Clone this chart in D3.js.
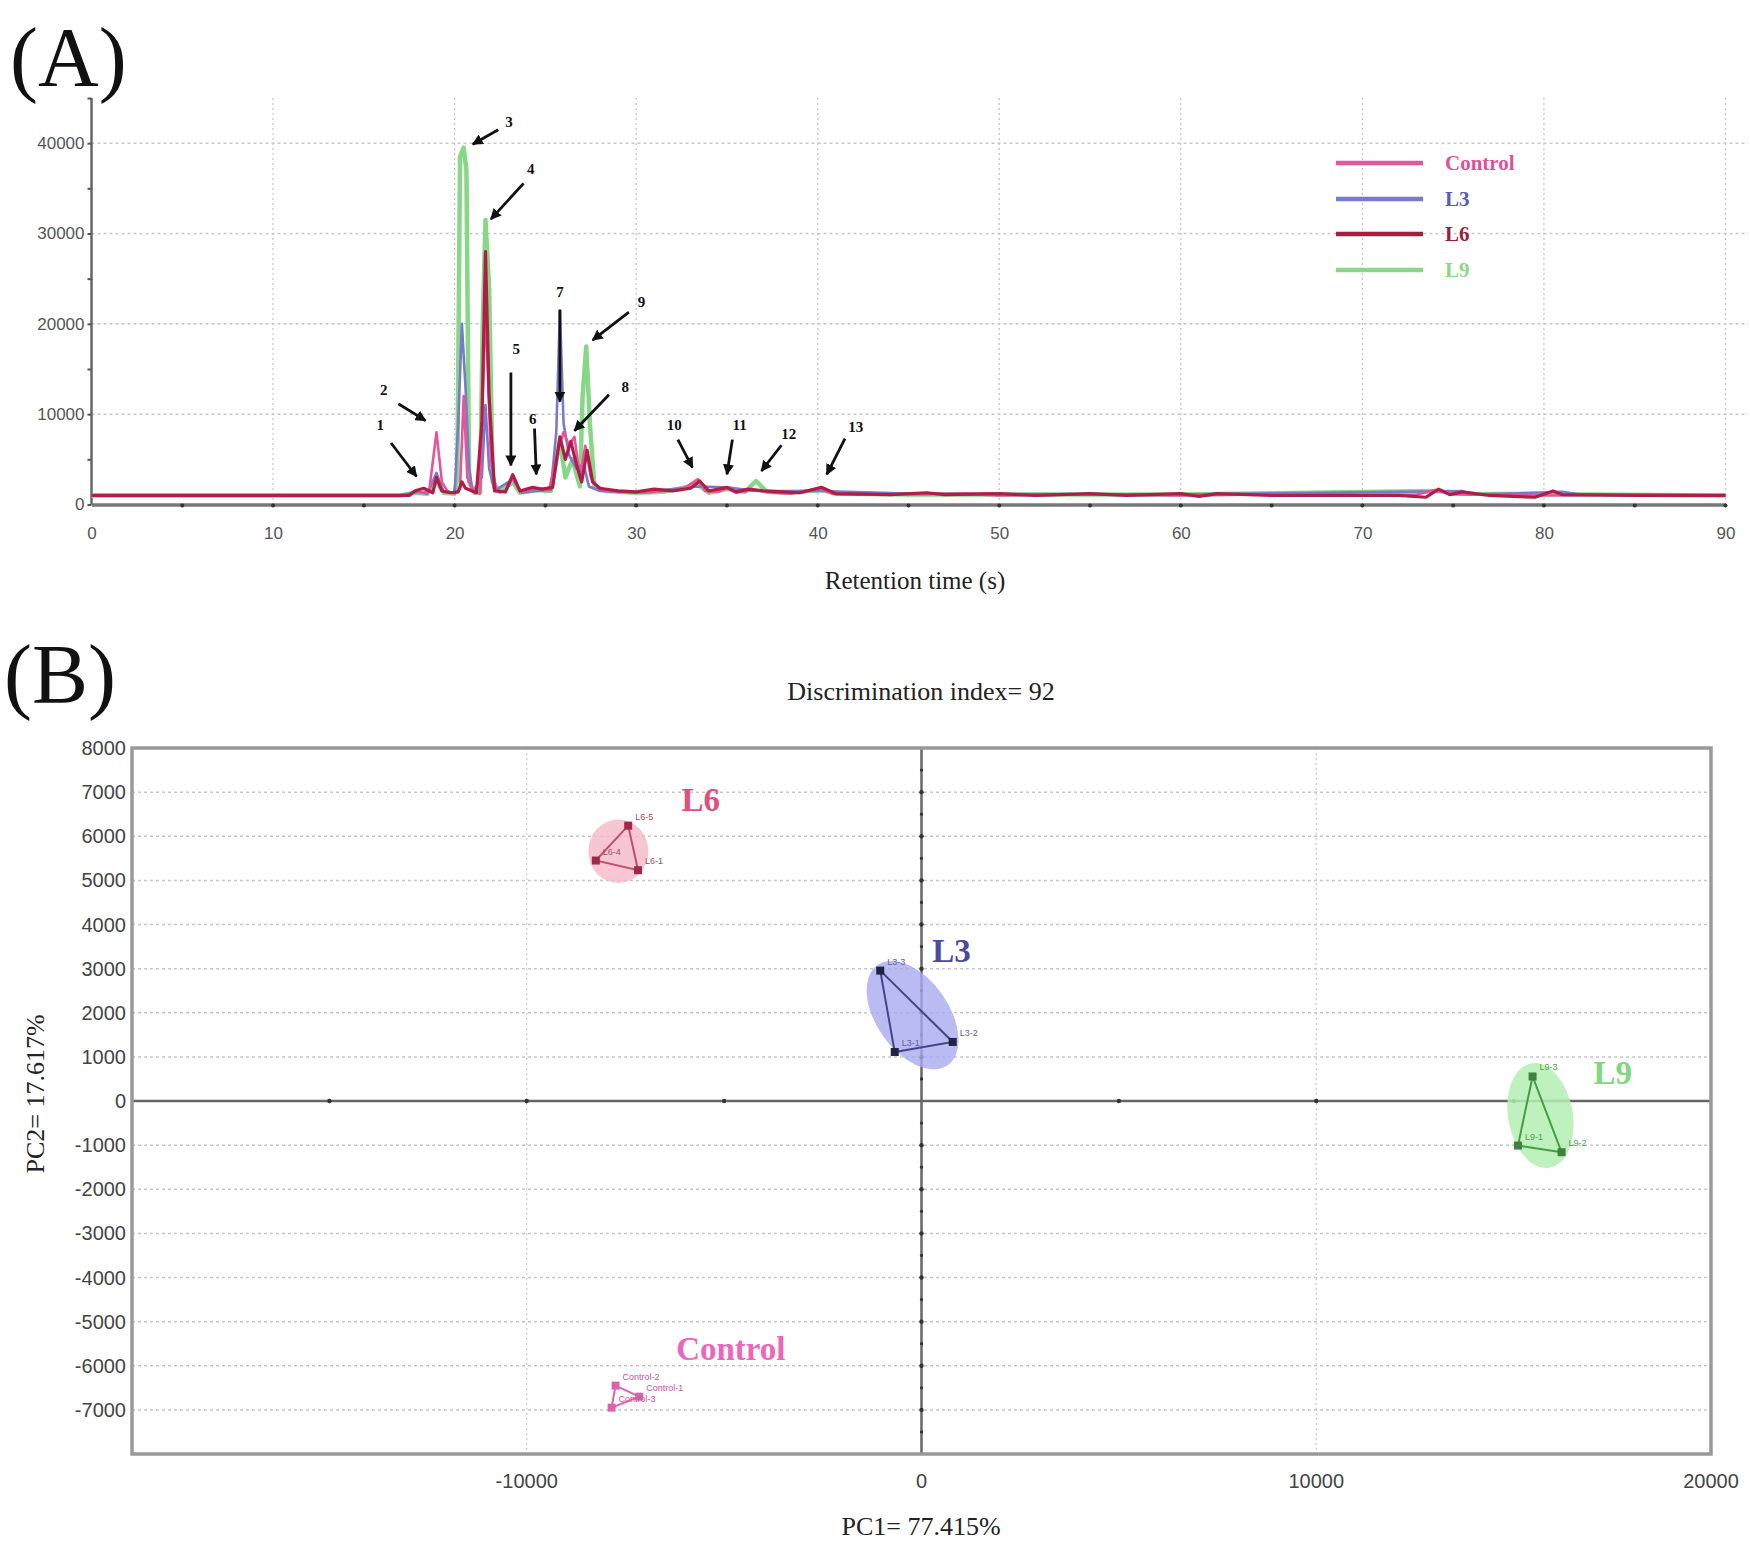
<!DOCTYPE html>
<html><head><meta charset="utf-8">
<script src="https://cdn.jsdelivr.net/npm/d3@7/dist/d3.min.js"></script>
<style>body{margin:0;background:#fff}svg{display:block}</style>
</head><body>
<script>
// ---------- Panel A data ----------
const seriesNames = ["Control", "L3", "L6", "L9"];
const xTicksA = [0,10,20,30,40,50,60,70,80,90];
const yTicksA = [0,10000,20000,30000,40000];

const traceControl = [[0,1000],[17.5,1000],[17.9,1600],[18.2,1300],[18.6,1500],[19.0,8000],[19.3,2500],[19.6,1500],[20.0,1200],[20.3,1800],[20.5,12000],[20.7,3000],[21.0,1500],[21.4,1200],[21.7,22000],[22.0,5000],[22.3,1500],[22.8,1400],[23.2,3000],[23.6,1400],[24.2,1700],[24.6,1800],[25.2,1600],[25.7,6000],[26.0,8000],[26.3,6500],[26.6,7500],[26.9,3000],[27.2,6500],[27.5,3000],[27.9,1800],[28.5,1500],[29.5,1400],[30.5,1300],[31.5,1500],[32.5,1600],[33.4,2800],[33.8,1500],[34.5,1400],[35.0,1800],[35.5,1300],[36.5,1600],[37.5,1300],[38.5,1200],[40.2,1800],[40.8,1200],[42,1100],[45,1100],[48,1200],[50,1000],[55,1100],[60,1000],[65,1100],[70,1000],[73,1100],[74,1600],[75,1100],[80,1000],[85,1100],[90,1000]];
const traceL3 = [[0,1000],[17,1000],[18,1400],[18.5,1200],[19,3500],[19.4,1400],[20.0,1300],[20.2,9000],[20.4,20000],[20.6,13000],[20.8,4000],[21.0,1400],[21.5,3000],[21.7,11000],[21.9,4000],[22.2,1500],[23.2,2800],[23.7,1300],[24.5,1500],[25.3,1600],[25.6,8000],[25.8,21500],[26.0,9000],[26.3,5500],[26.7,4000],[27.1,4500],[27.4,2000],[28,1500],[30,1300],[33.4,2000],[35,1900],[36.6,1500],[40.2,1500],[45,1200],[60,1100],[75.5,1500],[76,1100],[81,1400],[82,1100],[90,1000]];
const traceL6 = [[0,1000],[17.5,1000],[17.8,1500],[18.3,1800],[18.8,1300],[19.0,3000],[19.3,1500],[19.8,1300],[20.2,1400],[20.4,2500],[20.6,1800],[21.2,1300],[21.5,9000],[21.7,28000],[21.9,12000],[22.2,1500],[22.8,1400],[23.2,3300],[23.6,1500],[24.3,1900],[24.8,1700],[25.4,1900],[25.8,7500],[26.1,5000],[26.4,7000],[26.7,4500],[27.0,2500],[27.3,6000],[27.6,2500],[28,1800],[29,1500],[30,1400],[31,1700],[32,1500],[33,1800],[33.5,2600],[34,1500],[35,1900],[35.5,1400],[36.2,1700],[37,1500],[38,1400],[39,1300],[40.2,1900],[41,1200],[44,1100],[46,1300],[47,1100],[50,1200],[52,1000],[55,1200],[57,1000],[60,1200],[61,900],[62,1200],[65,1000],[72,1000],[73.5,800],[74.2,1700],[74.8,1100],[75.5,1400],[77,1000],[79.5,800],[80.5,1500],[81,1100],[85,1000],[90,1000]];
const traceL9 = [[0,1000],[17,1000],[17.8,1300],[18.5,1200],[19.0,2500],[19.4,1300],[20.0,1200],[20.15,3000],[20.3,38500],[20.5,39500],[20.65,37000],[20.8,2500],[21.1,1300],[21.4,1400],[21.55,20000],[21.7,31500],[21.9,24000],[22.1,2500],[22.5,1400],[23.2,2500],[23.6,1300],[24.5,1600],[25.3,1500],[25.8,7000],[26.1,3000],[26.5,5000],[26.9,2000],[27.05,12000],[27.25,17500],[27.45,9000],[27.7,2000],[28.3,1500],[30,1300],[31.5,1400],[33.4,2200],[34,1300],[35,1700],[36,1400],[36.6,2600],[37.2,1400],[38.5,1300],[40.2,1600],[41,1200],[45,1100],[60,1100],[74,1500],[76,1200],[90,1000]];

const peakLabels = ["1","2","3","4","5","6","7","8","9","10","11","12","13"];
const peakLabelPos = [[15.9,8790],[16.1,12630],[23.0,42360],[24.2,37160],[23.4,17210],[24.3,9410],[25.8,23530],[29.4,13000],[30.3,22410],[32.1,8790],[35.7,8790],[38.4,7800],[42.1,8540]];
const arrowTail = [[16.5,6810],[16.9,11150],[22.4,41490],[23.8,35550],[23.1,14610],[24.4,8420],[25.8,21550],[28.5,12140],[29.6,21300],[32.3,7180],[35.3,7180],[38.0,6560],[41.5,7300]];
const arrowHead = [[17.9,3100],[18.4,9290],[21.0,39880],[22.0,31590],[23.1,4330],[24.5,3340],[25.8,11390],[26.6,8170],[27.6,18200],[33.1,4080],[35.0,3340],[36.9,3710],[40.5,3340]];

// ---------- Panel B data ----------
const groupNames = ["L6","L3","L9","Control"];
const xTicksB = [-10000,0,10000,20000];
const yTicksB = [8000,7000,6000,5000,4000,3000,2000,1000,0,-1000,-2000,-3000,-4000,-5000,-6000,-7000];
const pointsL6 = [[-7430,6240],[-8250,5450],[-7180,5230]];
const pointsL3 = [[-1045,2955],[-678,1111],[791,1338]];
const pointsL9 = [[15480,556],[15110,-1010],[16215,-1160]];
const pointsControl = [[-7750,-6450],[-7850,-6950],[-7150,-6700]];
const pointNamesL6 = ["L6-5","L6-4","L6-1"];
const pointNamesL3 = ["L3-3","L3-1","L3-2"];
const pointNamesL9 = ["L9-3","L9-1","L9-2"];
const pointNamesControl = ["Control-2","Control-3","Control-1"];
// ellipse: center x, center y, semi-axis x, semi-axis y, rotation (deg)
const ellipseL6 = [-7680,5660,760,720,0];
const ellipseL3 = [-226,1944,1550,820,55];
const ellipseL9 = [15680,-330,820,1200,-10];
const groupLabelPos = [[-5590,6820],[763,3410],[17510,630],[-4830,-5630]];

// ---------- drawing ----------
const W = 1750, H = 1557;
const svg = d3.select("body").append("svg").attr("width",W).attr("height",H).style("background","#fff");
const serif = "'Liberation Serif','Times New Roman',serif";
const narrow = "'Liberation Sans Narrow','Liberation Sans',Arial,sans-serif";

svg.append("defs").append("marker").attr("id","arr").attr("viewBox","0 0 10 10")
  .attr("refX",9).attr("refY",5).attr("markerWidth",11).attr("markerHeight",11)
  .attr("markerUnits","userSpaceOnUse").attr("orient","auto")
  .append("path").attr("d","M0,0L10,5L0,10z").attr("fill","#111");

// Panel A
const xA = d3.scaleLinear().domain([0,90]).range([91.5,1725.5]);
const yA = d3.scaleLinear().domain([0,45000]).range([504.5,98]);
const gA = svg.append("g");

svg.append("text").attr("x",10).attr("y",86).attr("font-family",serif).attr("font-size",84).attr("fill","#111").text("(A)");

// grid
gA.selectAll(".vg").data(xTicksA.filter(d=>d>0)).join("line")
  .attr("x1",d=>xA(d)).attr("x2",d=>xA(d)).attr("y1",yA(45000)).attr("y2",yA(0))
  .attr("stroke","#c8c8c8").attr("stroke-width",1.3).attr("stroke-dasharray","2,3");
gA.selectAll(".hg").data(yTicksA.filter(d=>d>0)).join("line")
  .attr("x1",xA(0)).attr("x2",1748).attr("y1",d=>yA(d)).attr("y2",d=>yA(d))
  .attr("stroke","#c8c8c8").attr("stroke-width",1.5).attr("stroke-dasharray","3,3");

// axes
gA.append("line").attr("x1",xA(0)).attr("x2",xA(0)).attr("y1",yA(45000)).attr("y2",yA(0)).attr("stroke","#666").attr("stroke-width",2.5);
const axL = d3.axisLeft(yA).tickValues(d3.range(0,45001,5000)).tickSize(4).tickFormat(d=> d%10000===0 ? d : "");
const gy = gA.append("g").attr("transform",`translate(${xA(0)},0)`).call(axL);
gy.select(".domain").remove();
gy.selectAll("line").attr("stroke","#555").attr("stroke-width",2);
gy.selectAll("text").attr("font-family",narrow).attr("font-size",17).attr("fill","#555").attr("x",-7);

const axB = d3.axisBottom(xA).tickValues(d3.range(0,91,5)).tickSize(0).tickPadding(22).tickFormat(d=> d%10===0 ? d : "");
const gx = gA.append("g").attr("transform",`translate(0,${yA(0)})`).call(axB);
gx.select(".domain").attr("stroke","#777").attr("stroke-width",3.5);
gx.selectAll("text").attr("font-family",narrow).attr("font-size",17).attr("fill","#555");
gA.selectAll(".xt").data(d3.range(5,91,5)).join("circle").attr("cx",d=>xA(d)).attr("cy",yA(0)+1).attr("r",2).attr("fill","#333");

gA.append("text").attr("x",915).attr("y",589).attr("text-anchor","middle").attr("font-family",serif).attr("font-size",25).attr("fill","#222").text("Retention time (s)");

// traces
const colors = {Control:"#e6559c", L3:"#7a7acb", L6:"#b01e48", L9:"#86d886"};
const traces = {Control:traceControl, L3:traceL3, L6:traceL6, L9:traceL9};
const line = d3.line().x(d=>xA(d[0])).y(d=>yA(d[1]));
["L9","L3","Control","L6"].forEach(k=>{
  gA.append("path").datum(traces[k]).attr("d",line).attr("fill","none")
    .attr("stroke",colors[k]).attr("stroke-width",k==="L9"?4.5:(k==="L6"?3.2:2.6)).attr("stroke-linejoin","round");
});

// annotations
gA.selectAll(".arw").data(arrowTail).join("line")
  .attr("x1",d=>xA(d[0])).attr("y1",d=>yA(d[1]))
  .attr("x2",(d,i)=>xA(arrowHead[i][0])).attr("y2",(d,i)=>yA(arrowHead[i][1]))
  .attr("stroke","#111").attr("stroke-width",2.8).attr("marker-end","url(#arr)");
gA.selectAll(".pl").data(peakLabels).join("text")
  .attr("x",(d,i)=>xA(peakLabelPos[i][0])).attr("y",(d,i)=>yA(peakLabelPos[i][1])+5)
  .attr("text-anchor","middle").attr("font-family",serif).attr("font-weight","bold").attr("font-size",15).attr("fill","#111").text(d=>d);

// legend
const legY = [163,199,234,270];
const legColors = ["#e6559c","#7a7acb","#a81c40","#86d886"];
const legTextColors = ["#e0509a","#5a5ab8","#a01c3c","#8ad88a"];
seriesNames.forEach((s,i)=>{
  gA.append("line").attr("x1",1336).attr("x2",1423).attr("y1",legY[i]).attr("y2",legY[i]).attr("stroke",legColors[i]).attr("stroke-width",4.5);
  gA.append("text").attr("x",1445).attr("y",legY[i]+7).attr("font-family",serif).attr("font-weight","bold").attr("font-size",21).attr("fill",legTextColors[i]).text(s);
});

// Panel B
svg.append("text").attr("x",4).attr("y",703).attr("font-family",serif).attr("font-size",84).attr("fill","#111").text("(B)");
svg.append("text").attr("x",921).attr("y",700).attr("text-anchor","middle").attr("font-family",serif).attr("font-size",26).attr("fill","#222").text("Discrimination index= 92");

const xB = d3.scaleLinear().domain([-20000,20000]).range([132,1711]);
const yB = d3.scaleLinear().domain([-8000,8000]).range([1454,748]);
const gB = svg.append("g");

gB.selectAll(".bh").data(yTicksB.filter(d=>d!==0 && d!==8000)).join("line")
  .attr("x1",xB(-20000)).attr("x2",xB(20000)).attr("y1",d=>yB(d)).attr("y2",d=>yB(d))
  .attr("stroke","#c8c8c8").attr("stroke-width",1.5).attr("stroke-dasharray","3,3");
gB.selectAll(".bv").data([-10000,10000]).join("line")
  .attr("x1",d=>xB(d)).attr("x2",d=>xB(d)).attr("y1",yB(8000)).attr("y2",yB(-8000))
  .attr("stroke","#d0d0d0").attr("stroke-width",1.3).attr("stroke-dasharray","2,3");
// zero lines
gB.append("line").attr("x1",xB(-20000)).attr("x2",xB(20000)).attr("y1",yB(0)).attr("y2",yB(0)).attr("stroke","#666").attr("stroke-width",2.5);
gB.append("line").attr("x1",xB(0)).attr("x2",xB(0)).attr("y1",yB(8000)).attr("y2",yB(-8000)).attr("stroke","#666").attr("stroke-width",2.5);
gB.selectAll(".zx").data([-15000,-10000,-5000,5000,10000,15000]).join("circle").attr("cx",d=>xB(d)).attr("cy",yB(0)).attr("r",2.2).attr("fill","#333");
gB.selectAll(".zy").data(d3.range(-7500,8000,500).filter(d=>d!==0)).join("circle").attr("cx",xB(0)).attr("cy",d=>yB(d)).attr("r",d=>d%1000===0?2.2:1.6).attr("fill","#333");

// frame
gB.append("rect").attr("x",xB(-20000)).attr("y",yB(8000)).attr("width",xB(20000)-xB(-20000)).attr("height",yB(-8000)-yB(8000))
  .attr("fill","none").attr("stroke","#999").attr("stroke-width",3.5);

// tick labels
gB.selectAll(".yl").data(yTicksB).join("text").attr("x",126).attr("y",d=>yB(d)+7).attr("text-anchor","end")
  .attr("font-family",narrow).attr("font-size",20).attr("fill","#444").text(d=>d);
gB.selectAll(".xl").data(xTicksB).join("text").attr("x",d=>xB(d)).attr("y",1488).attr("text-anchor","middle")
  .attr("font-family",narrow).attr("font-size",20).attr("fill","#444").text(d=>d);

svg.append("text").attr("x",921).attr("y",1535).attr("text-anchor","middle").attr("font-family",serif).attr("font-size",26).attr("fill","#222").text("PC1= 77.415%");
svg.append("text").attr("transform","translate(44,1094) rotate(-90)").attr("text-anchor","middle").attr("font-family",serif).attr("font-size",26).attr("fill","#222").text("PC2= 17.617%");

// ellipses
function drawEllipse(e, fill, op){
  const cx = xB(e[0]), cy = yB(e[1]);
  const rx = Math.abs(xB(e[0]+e[2])-cx), ry = Math.abs(yB(e[1]+e[3])-cy);
  gB.append("ellipse").attr("cx",cx).attr("cy",cy).attr("rx",rx).attr("ry",ry)
    .attr("transform",`rotate(${e[4]},${cx},${cy})`).attr("fill",fill).attr("opacity",op);
}
drawEllipse(ellipseL6,"#f4b8c8",0.8);
drawEllipse(ellipseL3,"#aaaaf0",0.8);
drawEllipse(ellipseL9,"#b4efb4",0.85);

function drawGroup(pts, names, lineCol, ptCol, txtCol){
  const closed = pts.concat([pts[0]]);
  gB.append("path").datum(closed).attr("d",d3.line().x(d=>xB(d[0])).y(d=>yB(d[1])))
    .attr("fill","none").attr("stroke",lineCol).attr("stroke-width",2);
  gB.selectAll(null).data(pts).join("rect").attr("x",d=>xB(d[0])-4).attr("y",d=>yB(d[1])-4).attr("width",8).attr("height",8).attr("fill",ptCol);
  gB.selectAll(null).data(pts).join("text").attr("x",d=>xB(d[0])+7).attr("y",d=>yB(d[1])-6)
    .attr("font-family",narrow).attr("font-size",9).attr("fill",txtCol).text((d,i)=>names[i]);
}
drawGroup(pointsL6, pointNamesL6, "#c05070", "#a02848", "#a05060");
drawGroup(pointsL3, pointNamesL3, "#44448a", "#222244", "#6060a0");
drawGroup(pointsL9, pointNamesL9, "#40a040", "#408040", "#50a050");
drawGroup(pointsControl, pointNamesControl, "#e060b0", "#e060b0", "#d050a0");

const groupColors = ["#e0507e","#4a4aa0","#80d880","#ee66bb"];
gB.selectAll(".gl").data(groupNames).join("text")
  .attr("x",(d,i)=>xB(groupLabelPos[i][0])).attr("y",(d,i)=>yB(groupLabelPos[i][1])+11)
  .attr("text-anchor","middle").attr("font-family",serif).attr("font-weight","bold").attr("font-size",33)
  .attr("fill",(d,i)=>groupColors[i]).text(d=>d);
</script>
</body></html>
